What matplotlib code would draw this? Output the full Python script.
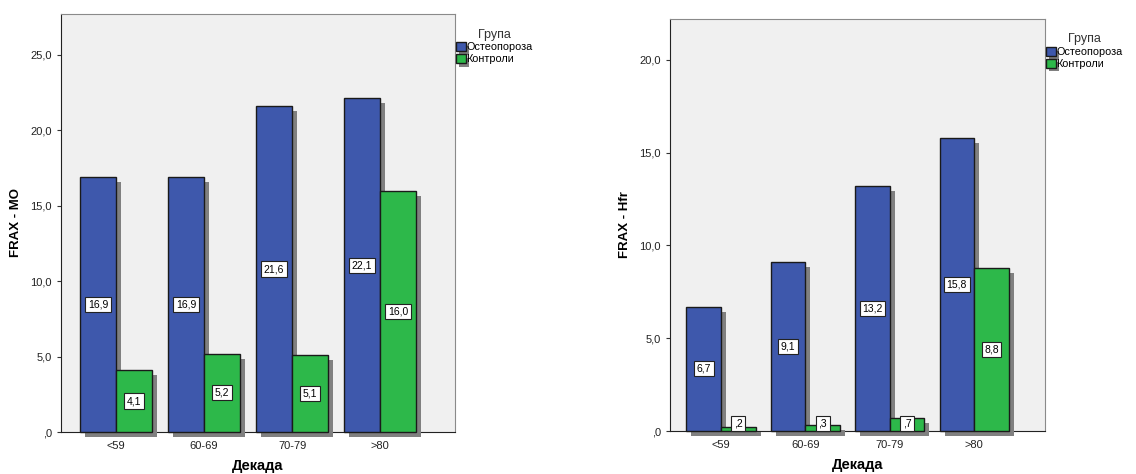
import numpy as np
import matplotlib
matplotlib.use("Agg")
import matplotlib.pyplot as plt
import matplotlib.patheffects as pe

plt.rcParams['font.family'] = ['Liberation Sans', 'DejaVu Sans']

decades = ["<59", "60-69", "70-79", ">80"]
groups = ["Остеопороза", "Контроли"]
mo_osteo = [16.9, 16.9, 21.6, 22.1]
mo_ctrl = [4.1, 5.2, 5.1, 16.0]
hfr_osteo = [6.7, 9.1, 13.2, 15.8]
hfr_ctrl = [0.2, 0.3, 0.7, 8.8]

BLUE = "#3e58ac"
GREEN = "#2db84a"
SHADOW = "#808080"
BG = "#f0f0f0"


def spss_fmt(v):
    s = f"{v:.1f}".replace(".", ",")
    if s.startswith("0,"):
        s = s[1:]
    return s


def shadow_fx():
    return [pe.SimplePatchShadow(offset=(3.6, -3.6), shadow_rgbFace=SHADOW, alpha=1.0),
            pe.Normal()]


def draw_panel(ax, osteo, ctrl, ylabel, ymax, yticks, xlim, min_label):
    x = np.arange(len(decades))
    w = 0.41
    for vals, col, off in [(osteo, BLUE, -w / 2), (ctrl, GREEN, w / 2)]:
        bars = ax.bar(x + off, vals, w, color=col, edgecolor="#1a1a1a", linewidth=1.0,
                      zorder=3, clip_on=False)
        for b, v in zip(bars, vals):
            b.set_path_effects(shadow_fx())
            yl = max(v / 2, min_label)
            ax.text(b.get_x() + w / 2, yl, spss_fmt(v), ha="center", va="center",
                    fontsize=7.5, zorder=5,
                    bbox=dict(boxstyle="square,pad=0.25", fc="white", ec="#222222", lw=0.8))

    ax.set_facecolor(BG)
    ax.set_xlim(*xlim)
    ax.set_ylim(0, ymax)
    ax.set_xticks(x)
    ax.set_xticklabels(decades)
    ax.set_yticks(yticks)
    ax.set_yticklabels([spss_fmt(t) for t in yticks])
    ax.tick_params(axis="both", labelsize=8, length=3, color="#333333", labelcolor="#222222")
    for side in ["top", "right"]:
        ax.spines[side].set_color("#8a8a8a")
    for side in ["left", "bottom"]:
        ax.spines[side].set_color("#222222")
    ax.set_xlabel("Декада", fontsize=10.5, fontweight="bold", labelpad=6)
    ax.set_ylabel(ylabel, fontsize=9.5, fontweight="bold", labelpad=6)

    leg = ax.legend(groups, loc="upper left", bbox_to_anchor=(1.002, 0.965), frameon=False,
                    title="Група", fontsize=7.8, title_fontsize=9, handlelength=0.9,
                    handleheight=0.9, handletextpad=0.1, labelspacing=0.15, borderpad=0,
                    borderaxespad=0)
    leg.get_title().set_color("#333333")
    for h, col in zip(leg.legend_handles, [BLUE, GREEN]):
        h.set_facecolor(col)
        h.set_edgecolor("#1a1a1a")
        h.set_path_effects([pe.SimplePatchShadow(offset=(2.5, -2.5), shadow_rgbFace=SHADOW,
                                                 alpha=1.0), pe.Normal()])


fig = plt.figure(figsize=(11.36, 4.74), dpi=100)
ax1 = fig.add_axes([0.0537, 0.0886, 0.3468, 0.8819])
ax2 = fig.add_axes([0.5898, 0.0907, 0.3301, 0.8692])

draw_panel(ax1, mo_osteo, mo_ctrl, "FRAX - MO", 27.7, [0, 5, 10, 15, 20, 25],
           (-0.625, 3.85), 0.5)
draw_panel(ax2, hfr_osteo, hfr_ctrl, "FRAX - Hfr", 22.2, [0, 5, 10, 15, 20],
           (-0.605, 3.84), 0.42)

fig.savefig("out.png", dpi=100)
